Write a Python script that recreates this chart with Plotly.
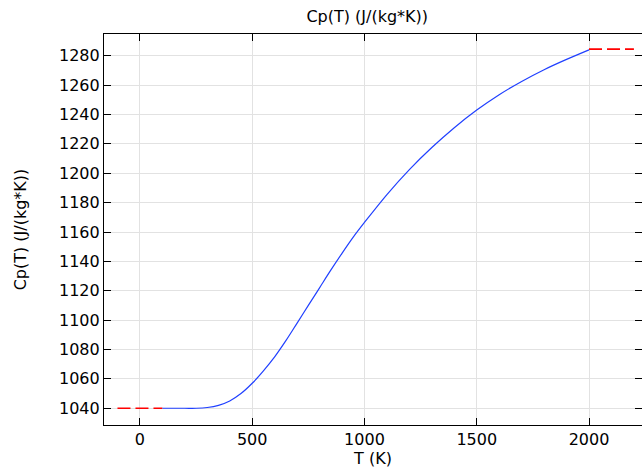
import plotly.graph_objects as go

# Blue curve: Cp(T)
T_main = [100, 200, 250, 300, 350, 400, 450, 500, 550, 600, 650, 700, 750, 800,
          850, 900, 950, 1000, 1100, 1200, 1300, 1400, 1500, 1600, 1700, 1800,
          1900, 2000]
Cp_main = [1040, 1040, 1040, 1040.5, 1042, 1045, 1050, 1057, 1065.5, 1075, 1086,
           1098, 1110, 1122, 1134, 1145.5, 1156.5, 1166.5, 1185.5, 1202.5, 1217.5,
           1231, 1243, 1253.5, 1262.5, 1270.5, 1277.5, 1284]

# Red dashed extrapolation segments
T_low = [-100, 100]
Cp_low = [1040, 1040]
T_high = [2000, 2200]
Cp_high = [1284.5, 1284.5]

x_ticks = [0, 500, 1000, 1500, 2000]
y_ticks = list(range(1040, 1281, 20))

title_text = "Cp(T) (J/(kg*K))"
x_title = "T (K)"
y_title = "Cp(T) (J/(kg*K))"

FONT = "DejaVu Sans"

fig = go.Figure()
fig.add_trace(go.Scatter(x=T_low, y=Cp_low, mode="lines",
                         line=dict(color="#ff0000", width=1.6, dash="13px,5px"),
                         showlegend=False))
fig.add_trace(go.Scatter(x=T_high, y=Cp_high, mode="lines",
                         line=dict(color="#ff0000", width=1.6, dash="13px,5px"),
                         showlegend=False))
fig.add_trace(go.Scatter(x=T_main, y=Cp_main, mode="lines",
                         line=dict(color="#2040ff", width=1.2, shape="spline", smoothing=1.0),
                         showlegend=False))

axis_common = dict(
    showgrid=True, gridcolor="#e2e2e2", gridwidth=1,
    showline=True, linecolor="black", linewidth=1.2, mirror="allticks",
    ticks="inside", ticklen=7, tickcolor="black", tickwidth=1,
    zeroline=False, automargin=False,
    tickfont=dict(family=FONT, size=16, color="black"),
)

fig.update_layout(
    width=642, height=468,
    margin=dict(l=104, r=0, t=34, b=43),
    paper_bgcolor="white", plot_bgcolor="white",
    font=dict(family=FONT, color="black"),
    title=dict(text=title_text, x=0.572, xanchor="center", y=0.965, yanchor="middle",
               font=dict(family=FONT, size=16, color="black")),
    xaxis=dict(range=[-160, 2236], tickvals=x_ticks,
               title=dict(text=x_title, font=dict(family=FONT, size=16), standoff=0),
               **axis_common),
    yaxis=dict(range=[1028.6, 1294.8], tickvals=y_ticks,
               title=dict(text=y_title, font=dict(family=FONT, size=16), standoff=28),
               **axis_common),
)

fig.write_html("out.html",
               config={"displayModeBar": False},
               post_script="document.body.style.margin='0px';document.body.style.overflow='hidden';")
